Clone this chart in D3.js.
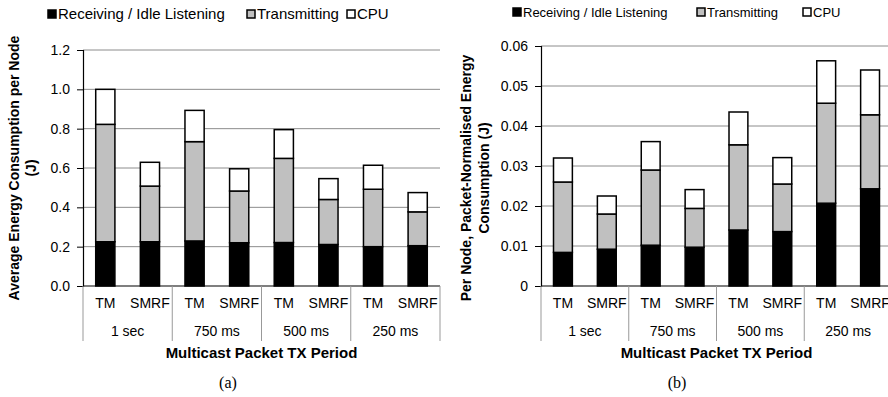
<!DOCTYPE html>
<html>
<head>
<meta charset="utf-8">
<script src="https://cdn.jsdelivr.net/npm/d3@7"></script>
<style>
  body { margin: 0; background: #fff; }
  svg text { font-family: Arial, "Liberation Sans", sans-serif; }
</style>
</head>
<body>
<div id="chart"></div>
<script>
const periods = ["1 sec", "750 ms", "500 ms", "250 ms"];
const protocols = ["TM", "SMRF"];
const seriesNames = ["Receiving / Idle Listening", "Transmitting", "CPU"];
const seriesColors = ["#000000", "#c0c0c0", "#ffffff"];

// (a) average energy per node (J), order: 1sec TM, 1sec SMRF, 750 TM, ...
const recvA = [0.225, 0.225, 0.229, 0.220, 0.221, 0.211, 0.200, 0.205];
const txA   = [0.597, 0.283, 0.505, 0.263, 0.428, 0.229, 0.292, 0.172];
const cpuA  = [0.178, 0.121, 0.159, 0.113, 0.146, 0.106, 0.122, 0.098];
const ticksA = [0, 0.2, 0.4, 0.6, 0.8, 1.0, 1.2];

// (b) per node, packet-normalised energy (J)
const recvB = [0.0084, 0.0092, 0.0102, 0.0097, 0.0140, 0.0136, 0.0207, 0.0243];
const txB   = [0.0176, 0.0088, 0.0188, 0.0097, 0.0213, 0.0119, 0.0250, 0.0185];
const cpuB  = [0.0060, 0.0045, 0.0071, 0.0047, 0.0082, 0.0066, 0.0106, 0.0112];
const ticksB = [0, 0.01, 0.02, 0.03, 0.04, 0.05, 0.06];

const svg = d3.select("#chart").append("svg")
    .attr("width", 888)
    .attr("height", 397);

function rows(recv, tx, cpu) {
    let out = [];
    periods.forEach((p, i) => {
        protocols.forEach((pr, j) => {
            let k = i * 2 + j;
            out.push({period: p, proto: pr, v0: recv[k], v1: tx[k], v2: cpu[k]});
        });
    });
    return out;
}

function drawChart(cfg) {
    let g = svg.append("g");
    let data = rows(cfg.recv, cfg.tx, cfg.cpu);

    let y = d3.scaleLinear()
        .domain([0, d3.max(cfg.ticks)])
        .range([286, cfg.top]);
    let x0 = d3.scaleBand()
        .domain(periods)
        .range([cfg.left, cfg.right]);
    let x1 = d3.scaleBand()
        .domain(protocols)
        .range([0, x0.bandwidth()])
        .paddingInner(0.57)
        .paddingOuter(0.285);

    // gridlines
    g.selectAll(".grid")
        .data(cfg.ticks.slice(1))
        .enter()
        .append("line")
        .attr("x1", cfg.left)
        .attr("x2", cfg.right)
        .attr("y1", d => y(d))
        .attr("y2", d => y(d))
        .attr("stroke", "#8c8c8c")
        .attr("stroke-width", 1);

    // y axis
    let yAxis = g.append("g")
        .attr("transform", `translate(${cfg.left},0)`)
        .call(d3.axisLeft(y).tickValues(cfg.ticks).tickFormat(cfg.fmt).tickSize(6).tickPadding(7));
    yAxis.select(".domain").attr("stroke", "#000").attr("stroke-width", 1.2);
    yAxis.selectAll(".tick line").attr("stroke", "#000");
    yAxis.selectAll("text").attr("font-size", 14).attr("fill", "#000")
        .style("font-family", "Arial, 'Liberation Sans', sans-serif");

    // stacked bars
    let stack = d3.stack().keys(["v0", "v1", "v2"]);
    let layers = stack(data);
    layers.forEach((layer, li) => {
        g.selectAll(".seg" + li)
            .data(layer)
            .enter()
            .append("rect")
            .attr("x", d => x0(d.data.period) + x1(d.data.proto))
            .attr("width", x1.bandwidth())
            .attr("y", d => y(d[1]))
            .attr("height", d => y(d[0]) - y(d[1]))
            .attr("fill", seriesColors[li])
            .attr("stroke", "#000")
            .attr("stroke-width", 1.5);
    });

    // baseline
    g.append("line")
        .attr("x1", cfg.left).attr("x2", cfg.right)
        .attr("y1", 286).attr("y2", 286)
        .attr("stroke", "#000").attr("stroke-width", 1.2);

    // category separators
    let seps = periods.map(p => x0(p)).concat([cfg.right]);
    g.selectAll(".sep")
        .data(seps)
        .enter()
        .append("line")
        .attr("x1", d => d).attr("x2", d => d)
        .attr("y1", 286).attr("y2", 341)
        .attr("stroke", "#999").attr("stroke-width", 1);

    // protocol labels
    g.selectAll(".proto")
        .data(data)
        .enter()
        .append("text")
        .text(d => d.proto)
        .attr("x", d => x0(d.period) + x1(d.proto) + x1.bandwidth() / 2)
        .attr("y", 308)
        .attr("text-anchor", "middle")
        .attr("font-size", 14);

    // period labels
    g.selectAll(".period")
        .data(periods)
        .enter()
        .append("text")
        .text(d => d)
        .attr("x", d => x0(d) + x0.bandwidth() / 2)
        .attr("y", 336)
        .attr("text-anchor", "middle")
        .attr("font-size", 14);

    // x title
    g.append("text")
        .text("Multicast Packet TX Period")
        .attr("x", (cfg.left + cfg.right) / 2)
        .attr("y", 358)
        .attr("text-anchor", "middle")
        .attr("font-size", 15)
        .attr("font-weight", "bold");

    // y title
    cfg.yTitle.forEach((t, i) => {
        g.append("text")
            .text(t)
            .attr("transform", `translate(${cfg.yTitleX[i]},${cfg.yTitleY}) rotate(-90)`)
            .attr("text-anchor", "middle")
            .attr("font-size", 14)
            .attr("font-weight", "bold");
    });

    // sub caption
    g.append("text")
        .text(cfg.caption)
        .attr("x", cfg.captionX)
        .attr("y", 388)
        .attr("text-anchor", "middle")
        .attr("font-size", 16)
        .style("font-family", "'Times New Roman', 'Liberation Serif', serif");

    // legend
    let lg = g.selectAll(".legend")
        .data(seriesNames)
        .enter()
        .append("g")
        .attr("transform", (d, i) => `translate(${cfg.legendX[i]},${cfg.legendY})`);
    lg.append("rect")
        .attr("x", 0).attr("y", -9)
        .attr("width", 8).attr("height", 8)
        .attr("fill", (d, i) => seriesColors[i])
        .attr("stroke", "#000")
        .attr("stroke-width", 1.5);
    lg.append("text")
        .text(d => d)
        .attr("x", 10)
        .attr("y", 0)
        .attr("font-size", cfg.legendFont);
}

drawChart({
    recv: recvA, tx: txA, cpu: cpuA, ticks: ticksA,
    fmt: d3.format(".1f"),
    left: 83, right: 440, top: 50,
    yTitle: ["Average Energy Consumption per Node", "(J)"],
    yTitleX: [19, 36], yTitleY: 168,
    caption: "(a)", captionX: 228,
    legendX: [48, 247, 347], legendY: 19, legendFont: 15
});

drawChart({
    recv: recvB, tx: txB, cpu: cpuB, ticks: ticksB,
    fmt: d => d === 0 ? "0" : d3.format(".2f")(d),
    left: 541, right: 892, top: 46,
    yTitle: ["Per Node, Packet-Normalised Energy", "Consumption (J)"],
    yTitleX: [471, 489], yTitleY: 178,
    caption: "(b)", captionX: 677,
    legendX: [513, 697, 803], legendY: 17, legendFont: 13
});
</script>
</body>
</html>
